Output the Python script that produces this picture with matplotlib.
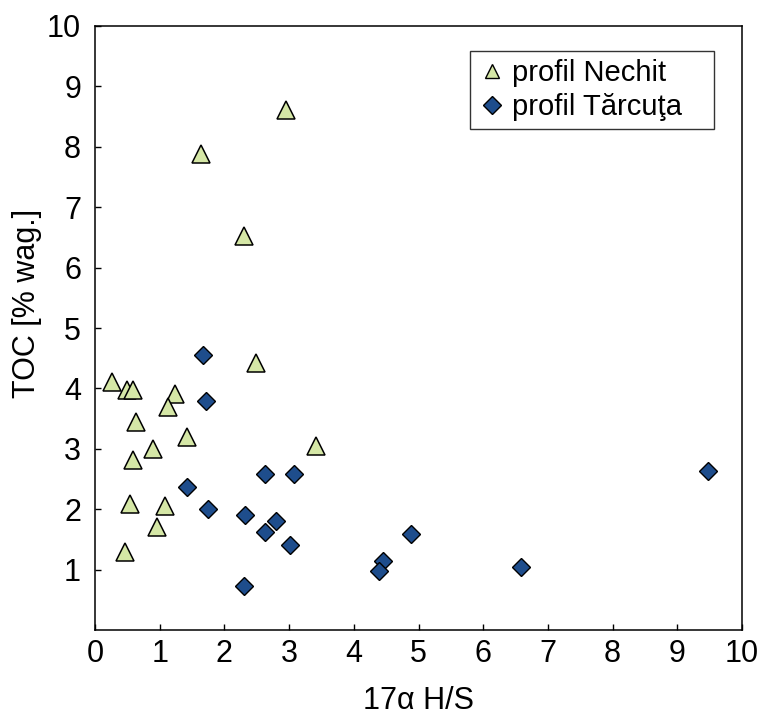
import matplotlib
matplotlib.use("Agg")
import matplotlib.pyplot as plt
from matplotlib.lines import Line2D

plt.rcParams['font.family'] = ['Liberation Sans', 'DejaVu Sans']

# profil Nechit
nechit_x = [0.26, 0.50, 0.59, 1.23, 1.13, 0.63, 1.42, 0.89, 0.58, 0.54,
            1.08, 0.96, 0.46, 2.49, 3.42, 1.64, 2.31, 2.95]
nechit_y = [4.11, 3.97, 3.97, 3.91, 3.69, 3.44, 3.19, 3.00, 2.81, 2.09,
            2.06, 1.70, 1.29, 4.42, 3.05, 7.88, 6.52, 8.61]

# profil Tărcuţa
tarcuta_x = [1.67, 1.71, 1.42, 1.75, 2.63, 3.07, 2.32, 2.80, 2.63, 3.01,
             2.30, 4.45, 4.39, 4.88, 6.59, 9.48]
tarcuta_y = [4.55, 3.80, 2.37, 2.00, 2.59, 2.58, 1.90, 1.80, 1.62, 1.41,
             0.73, 1.15, 0.97, 1.59, 1.04, 2.63]

series_labels = ['profil Nechit', 'profil Tărcuţa']
ticks = list(range(0, 11))

green = '#D5E7A6'
blue = '#1E4D8C'

fig = plt.figure(figsize=(7.66, 7.16), dpi=100)
ax = fig.add_axes([0.124, 0.120, 0.8447, 0.8437])

ax.plot(nechit_x, nechit_y, linestyle='none', marker='^', markersize=12.5,
        markerfacecolor=green, markeredgecolor='black', markeredgewidth=1.1)
ax.plot(tarcuta_x, tarcuta_y, linestyle='none', marker='D', markersize=9.2,
        markerfacecolor=blue, markeredgecolor='black', markeredgewidth=1.0)

ax.set_xlim(0, 10)
ax.set_ylim(0, 10)
ax.set_xticks(ticks)
ax.set_yticks(ticks[1:])
ax.tick_params(direction='in', length=4.5, width=1.0, labelsize=22)
ax.tick_params(axis='x', pad=6.5)
ax.tick_params(axis='y', pad=10)

for s in ax.spines.values():
    s.set_linewidth(1.1)

ax.set_xlabel('17α H/S', fontsize=22)
ax.set_ylabel('TOC [% wag.]', fontsize=22)
ax.xaxis.set_label_coords(0.5, -0.093)
ax.yaxis.set_label_coords(-0.082, 0.541)

handles = [
    Line2D([], [], linestyle='none', marker='^', markersize=9.4,
           markerfacecolor=green, markeredgecolor='black', markeredgewidth=1.0),
    Line2D([], [], linestyle='none', marker='D', markersize=8.7,
           markerfacecolor=blue, markeredgecolor='black', markeredgewidth=1.0),
]
leg = ax.legend(handles, series_labels, loc='upper left',
                bbox_to_anchor=(0.5796, 0.9586, 0.377, 0.0), mode='expand',
                borderaxespad=0, fontsize=21, frameon=True, fancybox=False,
                handlelength=0.93, handletextpad=0.22, borderpad=0.28,
                labelspacing=0.2)
leg.get_frame().set_edgecolor('black')
leg.get_frame().set_linewidth(1.0)

fig.savefig('out.png', dpi=100)
